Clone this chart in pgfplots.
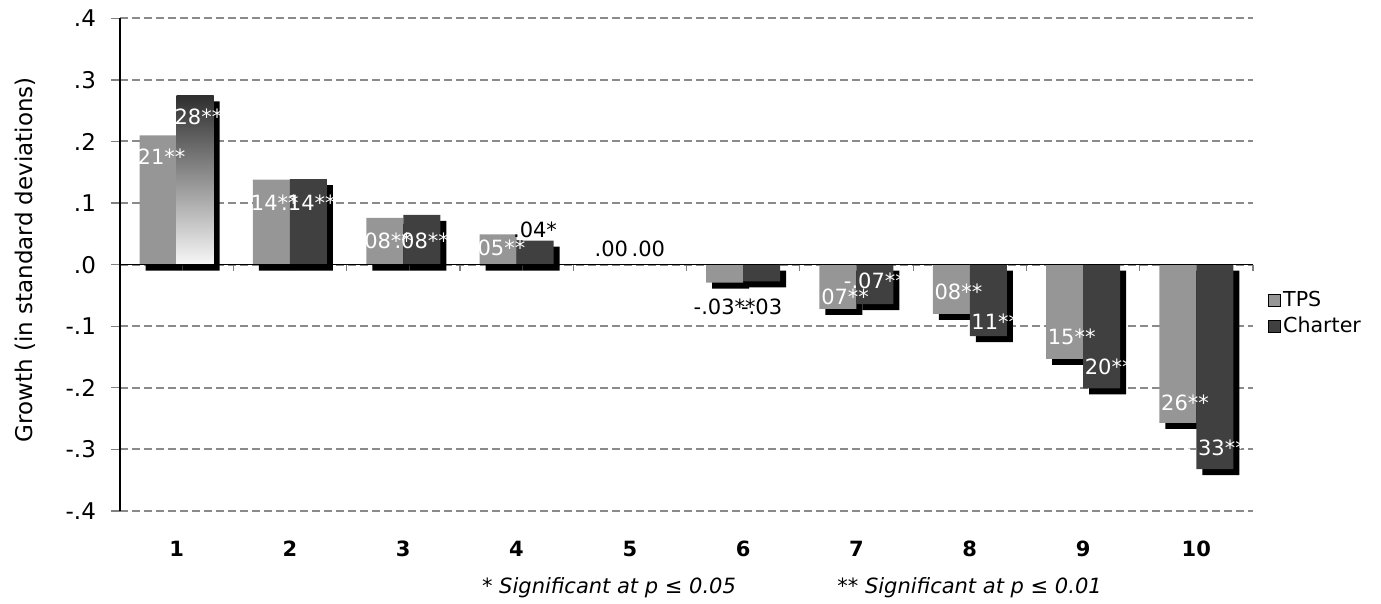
\documentclass[border=0pt]{standalone}
\usepackage{pgfplots}
\pgfplotsset{compat=1.18}
\usepackage{fontspec}
\setmainfont{DejaVu Sans}
\definecolor{tps}{HTML}{969696}
\definecolor{charter}{HTML}{404040}
\definecolor{gridc}{HTML}{8A8A8A}
\definecolor{tickc}{HTML}{808080}
\begin{document}
\begin{tikzpicture}
\path[use as bounding box] (-60pt,-46.5pt) rectangle (630.5pt,255.5pt);
\begin{axis}[
  scale only axis,
  width=566.5pt, height=246.35pt,
  xmin=0.5, xmax=10.5, ymin=-0.4, ymax=0.4,
  axis lines*=left,
  axis line style={-},
  x axis line style={draw=none},
  y axis line style={black, line width=0.6pt},
  xtick={1,2,3,4,5,6,7,8,9,10},
  xticklabels={1,2,3,4,5,6,7,8,9,10},
  xtick style={draw=none},
  xticklabel style={font=\fontsize{10.5}{12}\selectfont\bfseries, yshift=-7pt},
  ytick={-0.4,-0.3,-0.2,-0.1,0,0.1,0.2,0.3,0.4},
  yticklabels={-.4,-.3,-.2,-.1,.0,.1,.2,.3,.4},
  yticklabel style={font=\fontsize{11.5}{13}\selectfont, xshift=-4pt},
  ytick style={tickc, line width=0.6pt},
  major tick length=4.5pt,
  tick align=outside,
  ymajorgrids,
  major grid style={gridc, line width=1pt, dash pattern=on 4pt off 2pt},
  ylabel={Growth (in standard deviations)},
  ylabel style={font=\fontsize{11.5}{13}\selectfont, at={(axis description cs:-0.0838,0.51)}, anchor=center},
  legend image code/.code={\fill[#1] (0pt,-3pt) rectangle (6pt,3pt);},
  legend style={at={(axis description cs:1.0132,0.401)}, anchor=west, draw=none, fill=none,
    font=\fontsize{10.3}{12}\selectfont, row sep=1.5pt, inner sep=0pt, nodes={inner sep=1pt}},
  legend cell align=left,
  clip=false,
]
% shadows
\addplot[ybar, bar width=18.5pt, bar shift=-9.25pt, fill=black, draw=none, xshift=3pt, yshift=-3pt, forget plot]
  coordinates {(1,0.210) (2,0.138) (3,0.076) (4,0.049) (6,-0.029) (7,-0.072) (8,-0.080) (9,-0.153) (10,-0.257)};
\addplot[ybar, bar width=18.5pt, bar shift=9.25pt, fill=black, draw=none, xshift=3pt, yshift=-3pt, forget plot]
  coordinates {(1,0.275) (2,0.139) (3,0.081) (4,0.039) (6,-0.027) (7,-0.064) (8,-0.116) (9,-0.201) (10,-0.332)};
% bars (group 5: both values are .00, no visible bar)
\addplot[ybar, bar width=18.5pt, bar shift=-9.25pt, fill=tps, draw=none, forget plot]
  coordinates {(1,0.210) (2,0.138) (3,0.076) (4,0.049) (6,-0.029) (7,-0.072) (8,-0.080) (9,-0.153) (10,-0.257)};
\addplot[ybar, bar width=18.5pt, bar shift=9.25pt, fill=charter, draw=none, forget plot]
  coordinates {(1,0.275) (2,0.139) (3,0.081) (4,0.039) (6,-0.027) (7,-0.064) (8,-0.116) (9,-0.201) (10,-0.332)};
% gradient bar (group 1, Charter)
\addplot[ybar, bar width=18.5pt, bar shift=9.25pt, draw=none, top color=black!82, bottom color=white!97!black, forget plot]
  coordinates {(1,0.275)};
% zero line with category ticks
\draw[black, line width=0.6pt] (axis cs:0.5,0) -- (axis cs:10.5,0);
\draw[tickc, line width=0.6pt]
  (axis cs:1.5,0) -- ([yshift=-3pt]axis cs:1.5,0)
  (axis cs:2.5,0) -- ([yshift=-3pt]axis cs:2.5,0)
  (axis cs:3.5,0) -- ([yshift=-3pt]axis cs:3.5,0)
  (axis cs:4.5,0) -- ([yshift=-3pt]axis cs:4.5,0)
  (axis cs:5.5,0) -- ([yshift=-3pt]axis cs:5.5,0)
  (axis cs:6.5,0) -- ([yshift=-3pt]axis cs:6.5,0)
  (axis cs:7.5,0) -- ([yshift=-3pt]axis cs:7.5,0)
  (axis cs:8.5,0) -- ([yshift=-3pt]axis cs:8.5,0)
  (axis cs:9.5,0) -- ([yshift=-3pt]axis cs:9.5,0)
  (axis cs:10.5,0) -- ([yshift=-3pt]axis cs:10.5,0);
% white labels
\addplot[draw=none, mark=none, forget plot, nodes near coords, point meta=explicit symbolic,
  every node near coord/.append style={anchor=center, text=white, inner sep=0pt, font=\fontsize{10.5}{12}\selectfont}]
  coordinates {
  (0.837,0.175) [.21**] (1.163,0.240) [.28**]
  (1.837,0.100) [.14**] (2.163,0.100) [.14**]
  (2.837,0.038) [.08**] (3.163,0.038) [.08**]
  (3.837,0.027) [.05**]
  (6.837,-0.052) [-.07**] (7.163,-0.026) [-.07**]
  (7.837,-0.044) [-.08**] (8.163,-0.093) [-.11**]
  (8.837,-0.117) [-.15**] (9.163,-0.166) [-.20**]
  (9.837,-0.225) [-.26**] (10.163,-0.297) [-.33**]
  };
% black labels
\addplot[draw=none, mark=none, forget plot, nodes near coords, point meta=explicit symbolic,
  every node near coord/.append style={anchor=center, text=black, inner sep=0pt, font=\fontsize{10.5}{12}\selectfont}]
  coordinates {
  (4.163,0.056) [.04*]
  (4.837,0.025) [.00] (5.163,0.025) [.00]
  (5.837,-0.069) [-.03**] (6.163,-0.069) [-.03]
  };
\addlegendimage{fill=tps}
\addlegendentry{TPS}
\addlegendimage{fill=charter}
\addlegendentry{Charter}
\node[font=\fontsize{10.5}{12}\selectfont\itshape, anchor=center] at (axis description cs:0.4316,-0.156) {* Significant at p ≤ 0.05};
\node[font=\fontsize{10.5}{12}\selectfont\itshape, anchor=center] at (axis description cs:0.7498,-0.156) {** Significant at p ≤ 0.01};
\end{axis}
\end{tikzpicture}
\end{document}
